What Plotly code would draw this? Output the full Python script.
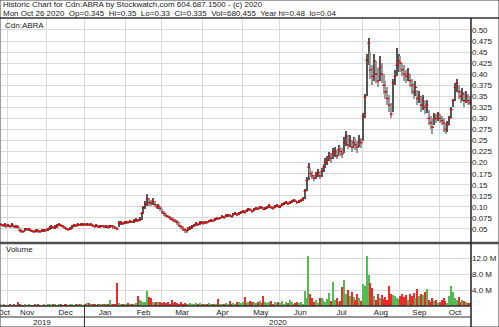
import pandas as pd
import plotly.graph_objects as go

# ---------------- data ----------------
HOLIDAYS = ["2019-12-25", "2019-12-26", "2020-01-01", "2020-02-17", "2020-04-10",
            "2020-05-18", "2020-07-01", "2020-08-03", "2020-09-07", "2020-10-12"]
MONTH_NAMES = ["Jan", "Feb", "Mar", "Apr", "May", "Jun", "Jul", "Aug", "Sep", "Oct", "Nov", "Dec"]

price_tickvals = [0.05, 0.075, 0.10, 0.125, 0.15, 0.175, 0.20, 0.225, 0.25, 0.275,
                  0.30, 0.325, 0.35, 0.375, 0.40, 0.425, 0.45, 0.475, 0.50]
price_ticktext = ["0.05", "0.075", "0.10", "0.125", "0.15", "0.175", "0.20", "0.225", "0.25", "0.275",
                  "0.30", "0.325", "0.35", "0.375", "0.40", "0.425", "0.45", "0.475", "0.50"]
vol_tickvals = [4, 8, 12]
vol_ticktext = ["4.0 M", "8.0 M", "12.0 M"]

c_oct19 = [0.060, 0.058, 0.060, 0.057]
h_oct19 = [0.063, 0.062, 0.063, 0.061]
l_oct19 = [0.056, 0.054, 0.055, 0.053]
v_oct19 = [0.3, 0.2, 0.4, 0.2]

c_nov19 = [0.058, 0.056, 0.060, 0.055, 0.056, 0.054, 0.047, 0.045, 0.044, 0.050, 0.049, 0.050, 0.046, 0.045, 0.044, 0.047, 0.045, 0.044, 0.046, 0.048, 0.047]
h_nov19 = [0.062, 0.060, 0.063, 0.059, 0.059, 0.058, 0.053, 0.049, 0.048, 0.053, 0.052, 0.053, 0.050, 0.048, 0.047, 0.050, 0.049, 0.047, 0.049, 0.051, 0.051]
l_nov19 = [0.054, 0.053, 0.055, 0.052, 0.052, 0.049, 0.044, 0.042, 0.041, 0.045, 0.045, 0.046, 0.043, 0.042, 0.041, 0.043, 0.042, 0.041, 0.043, 0.044, 0.044]
v_nov19 = [0.2, 0.3, 0.1, 0.4, 0.2, 1.0, 0.3, 0.2, 0.1, 0.3, 0.2, 0.4, 0.1, 0.2, 0.3, 0.2, 0.5, 0.2, 0.1, 0.3, 0.2]

c_dec19 = [0.050, 0.052, 0.055, 0.053, 0.055, 0.057, 0.060, 0.058, 0.056, 0.052, 0.050, 0.049, 0.050, 0.055, 0.058, 0.057, 0.060, 0.059, 0.060, 0.061]
h_dec19 = [0.053, 0.056, 0.058, 0.057, 0.058, 0.061, 0.064, 0.062, 0.059, 0.057, 0.054, 0.052, 0.054, 0.058, 0.061, 0.061, 0.063, 0.062, 0.063, 0.064]
l_dec19 = [0.046, 0.048, 0.051, 0.050, 0.051, 0.053, 0.056, 0.054, 0.052, 0.049, 0.047, 0.046, 0.047, 0.050, 0.054, 0.054, 0.056, 0.056, 0.057, 0.057]
v_dec19 = [0.3, 0.5, 0.2, 0.4, 0.3, 0.2, 0.6, 0.3, 0.2, 0.4, 0.3, 0.2, 0.5, 0.3, 0.2, 0.4, 0.3, 0.6, 0.3, 0.2]

c_jan20 = [0.060, 0.061, 0.059, 0.060, 0.057, 0.056, 0.058, 0.055, 0.056, 0.057, 0.055, 0.056, 0.054, 0.056, 0.057, 0.055, 0.052, 0.050, 0.063, 0.064, 0.062, 0.065]
h_jan20 = [0.063, 0.064, 0.063, 0.063, 0.061, 0.059, 0.061, 0.059, 0.059, 0.060, 0.059, 0.059, 0.058, 0.059, 0.060, 0.059, 0.056, 0.055, 0.067, 0.068, 0.066, 0.068]
l_jan20 = [0.057, 0.057, 0.056, 0.056, 0.054, 0.053, 0.054, 0.052, 0.053, 0.054, 0.052, 0.053, 0.051, 0.053, 0.054, 0.051, 0.049, 0.047, 0.054, 0.060, 0.059, 0.061]
v_jan20 = [0.3, 0.7, 0.8, 0.4, 0.3, 0.5, 0.2, 0.4, 0.3, 0.5, 0.3, 0.6, 0.3, 1.5, 0.4, 0.5, 0.3, 5.7, 0.8, 0.6, 0.4, 0.5]

c_feb20 = [0.066, 0.065, 0.067, 0.066, 0.068, 0.070, 0.069, 0.072, 0.085, 0.098, 0.106, 0.118, 0.110, 0.108, 0.112, 0.105, 0.100, 0.102, 0.097]
h_feb20 = [0.069, 0.069, 0.070, 0.069, 0.072, 0.074, 0.073, 0.076, 0.089, 0.103, 0.113, 0.130, 0.121, 0.116, 0.119, 0.113, 0.107, 0.107, 0.103]
l_feb20 = [0.062, 0.062, 0.063, 0.063, 0.064, 0.066, 0.065, 0.067, 0.071, 0.084, 0.096, 0.103, 0.103, 0.101, 0.104, 0.099, 0.095, 0.096, 0.091]
v_feb20 = [0.5, 0.8, 0.4, 0.6, 0.5, 0.7, 2.6, 1.5, 1.2, 0.9, 1.0, 3.8, 2.2, 1.9, 1.0, 0.8, 1.1, 0.9, 1.0]

c_mar20 = [0.088, 0.085, 0.080, 0.078, 0.075, 0.072, 0.070, 0.068, 0.065, 0.058, 0.055, 0.050, 0.048, 0.046, 0.050, 0.052, 0.055, 0.058, 0.062, 0.060, 0.063, 0.065]
h_mar20 = [0.095, 0.090, 0.087, 0.082, 0.080, 0.077, 0.074, 0.072, 0.070, 0.066, 0.060, 0.057, 0.053, 0.051, 0.055, 0.056, 0.059, 0.062, 0.066, 0.064, 0.067, 0.068]
l_mar20 = [0.084, 0.080, 0.076, 0.074, 0.071, 0.068, 0.066, 0.064, 0.060, 0.055, 0.050, 0.045, 0.042, 0.041, 0.045, 0.048, 0.051, 0.054, 0.057, 0.057, 0.059, 0.061]
v_mar20 = [0.8, 1.0, 0.7, 0.9, 0.6, 1.5, 0.8, 1.0, 0.7, 0.6, 0.9, 0.5, 0.8, 0.6, 0.4, 0.7, 0.5, 0.6, 0.8, 0.5, 0.7, 0.6]

c_apr20 = [0.063, 0.066, 0.065, 0.068, 0.070, 0.068, 0.072, 0.074, 0.073, 0.075, 0.078, 0.076, 0.080, 0.082, 0.080, 0.078, 0.083, 0.085, 0.082, 0.086, 0.088]
h_apr20 = [0.067, 0.069, 0.068, 0.071, 0.073, 0.071, 0.075, 0.077, 0.076, 0.078, 0.081, 0.079, 0.083, 0.085, 0.083, 0.082, 0.086, 0.088, 0.086, 0.089, 0.091]
l_apr20 = [0.060, 0.062, 0.062, 0.065, 0.066, 0.065, 0.068, 0.071, 0.070, 0.072, 0.074, 0.073, 0.076, 0.078, 0.077, 0.075, 0.079, 0.081, 0.079, 0.082, 0.084]
v_apr20 = [0.5, 0.6, 0.4, 0.7, 0.5, 0.6, 0.4, 0.5, 1.7, 0.6, 0.5, 0.4, 0.8, 0.6, 1.2, 0.5, 0.7, 0.6, 0.9, 1.0, 0.8]

c_may20 = [0.090, 0.088, 0.092, 0.095, 0.093, 0.090, 0.094, 0.097, 0.095, 0.100, 0.098, 0.095, 0.097, 0.100, 0.102, 0.099, 0.097, 0.100, 0.103, 0.100]
h_may20 = [0.093, 0.092, 0.095, 0.098, 0.097, 0.094, 0.097, 0.100, 0.099, 0.103, 0.102, 0.099, 0.100, 0.103, 0.106, 0.103, 0.101, 0.104, 0.107, 0.104]
l_may20 = [0.086, 0.085, 0.088, 0.091, 0.090, 0.087, 0.090, 0.093, 0.092, 0.096, 0.095, 0.092, 0.093, 0.096, 0.098, 0.096, 0.094, 0.097, 0.099, 0.097]
v_may20 = [1.0, 2.3, 0.8, 1.0, 1.2, 0.9, 1.1, 0.7, 1.0, 1.3, 0.8, 2.5, 1.0, 0.7, 0.9, 1.2, 0.6, 1.0, 0.8, 1.1]

c_jun20 = [0.102, 0.105, 0.108, 0.110, 0.107, 0.110, 0.112, 0.115, 0.113, 0.110, 0.112, 0.115, 0.118, 0.135, 0.160, 0.190, 0.175, 0.170, 0.165, 0.172, 0.178, 0.170]
h_jun20 = [0.105, 0.108, 0.111, 0.113, 0.111, 0.113, 0.115, 0.118, 0.117, 0.114, 0.115, 0.118, 0.122, 0.140, 0.168, 0.200, 0.188, 0.180, 0.172, 0.178, 0.185, 0.178]
l_jun20 = [0.098, 0.101, 0.104, 0.106, 0.104, 0.106, 0.108, 0.111, 0.110, 0.107, 0.108, 0.111, 0.114, 0.118, 0.135, 0.160, 0.168, 0.162, 0.158, 0.163, 0.168, 0.162]
v_jun20 = [0.8, 1.2, 0.6, 1.0, 0.7, 1.5, 0.9, 0.6, 0.8, 1.0, 0.7, 0.9, 0.6, 3.8, 2.0, 12.5, 3.0, 1.9, 1.0, 1.5, 0.8, 2.0]

c_jul20 = [0.180, 0.190, 0.200, 0.205, 0.215, 0.210, 0.220, 0.225, 0.215, 0.230, 0.225, 0.220, 0.245, 0.260, 0.240, 0.250, 0.235, 0.245, 0.240, 0.235, 0.250, 0.245]
h_jul20 = [0.188, 0.198, 0.210, 0.215, 0.225, 0.222, 0.232, 0.236, 0.228, 0.240, 0.236, 0.232, 0.258, 0.272, 0.262, 0.262, 0.252, 0.258, 0.255, 0.248, 0.262, 0.256]
l_jul20 = [0.168, 0.178, 0.188, 0.195, 0.203, 0.200, 0.208, 0.212, 0.208, 0.215, 0.215, 0.210, 0.222, 0.238, 0.230, 0.235, 0.225, 0.232, 0.228, 0.222, 0.235, 0.232]
v_jul20 = [2.0, 1.5, 1.0, 1.8, 3.2, 1.2, 6.0, 1.5, 2.0, 1.0, 1.3, 4.8, 6.5, 3.0, 4.0, 2.5, 3.5, 2.2, 1.5, 3.0, 2.0, 1.2]

c_aug20 = [0.305, 0.348, 0.432, 0.470, 0.410, 0.395, 0.430, 0.400, 0.385, 0.415, 0.400, 0.375, 0.360, 0.345, 0.330, 0.310, 0.380, 0.395, 0.420, 0.430]
h_aug20 = [0.312, 0.355, 0.445, 0.482, 0.450, 0.420, 0.445, 0.430, 0.415, 0.440, 0.425, 0.400, 0.385, 0.370, 0.352, 0.335, 0.390, 0.410, 0.460, 0.445]
l_aug20 = [0.250, 0.300, 0.350, 0.420, 0.390, 0.375, 0.385, 0.380, 0.370, 0.385, 0.380, 0.355, 0.345, 0.330, 0.315, 0.300, 0.315, 0.375, 0.395, 0.405]
v_aug20 = [5.5, 5.0, 12.5, 7.7, 5.7, 4.4, 2.5, 1.5, 3.0, 2.0, 2.8, 1.8, 2.2, 1.5, 5.0, 3.0, 2.8, 2.5, 2.0, 1.8]

c_sep20 = [0.425, 0.410, 0.400, 0.395, 0.400, 0.385, 0.375, 0.360, 0.370, 0.345, 0.350, 0.330, 0.340, 0.325, 0.330, 0.300, 0.290, 0.280, 0.305, 0.300, 0.310]
h_sep20 = [0.440, 0.425, 0.420, 0.410, 0.415, 0.400, 0.390, 0.380, 0.385, 0.365, 0.362, 0.350, 0.352, 0.340, 0.342, 0.320, 0.305, 0.300, 0.312, 0.310, 0.315]
l_sep20 = [0.405, 0.395, 0.385, 0.380, 0.385, 0.370, 0.355, 0.345, 0.350, 0.330, 0.335, 0.315, 0.320, 0.310, 0.312, 0.285, 0.275, 0.265, 0.285, 0.290, 0.295]
v_sep20 = [2.5, 3.0, 2.2, 2.8, 1.5, 3.0, 2.5, 3.2, 2.0, 4.2, 2.5, 3.0, 2.8, 3.5, 4.2, 1.5, 1.0, 2.0, 1.2, 1.5, 0.8]

c_oct20 = [0.300, 0.295, 0.290, 0.275, 0.285, 0.300, 0.320, 0.340, 0.370, 0.380, 0.360, 0.350, 0.355, 0.340, 0.350, 0.340, 0.335]
h_oct20 = [0.310, 0.305, 0.300, 0.290, 0.295, 0.305, 0.325, 0.345, 0.380, 0.390, 0.375, 0.365, 0.368, 0.360, 0.362, 0.355, 0.350]
l_oct20 = [0.290, 0.285, 0.270, 0.265, 0.270, 0.285, 0.300, 0.325, 0.340, 0.360, 0.345, 0.335, 0.340, 0.325, 0.335, 0.330, 0.330]
v_oct20 = [1.0, 1.5, 2.0, 1.2, 0.8, 2.5, 5.0, 3.5, 2.0, 1.5, 2.2, 1.0, 1.5, 1.2, 1.0, 0.8, 0.7]

close = (c_oct19 + c_nov19 + c_dec19 + c_jan20 + c_feb20 + c_mar20 + c_apr20 +
         c_may20 + c_jun20 + c_jul20 + c_aug20 + c_sep20 + c_oct20)
high = (h_oct19 + h_nov19 + h_dec19 + h_jan20 + h_feb20 + h_mar20 + h_apr20 +
        h_may20 + h_jun20 + h_jul20 + h_aug20 + h_sep20 + h_oct20)
low = (l_oct19 + l_nov19 + l_dec19 + l_jan20 + l_feb20 + l_mar20 + l_apr20 +
       l_may20 + l_jun20 + l_jul20 + l_aug20 + l_sep20 + l_oct20)
volume = (v_oct19 + v_nov19 + v_dec19 + v_jan20 + v_feb20 + v_mar20 + v_apr20 +
          v_may20 + v_jun20 + v_jul20 + v_aug20 + v_sep20 + v_oct20)

dates = [d for d in pd.bdate_range("2019-10-28", "2020-10-26")
         if d.strftime("%Y-%m-%d") not in HOLIDAYS]
n = len(dates)
idx = list(range(n))

# ---------------- derived positions ----------------
month_starts = [i for i in idx if i == 0 or dates[i].month != dates[i - 1].month]
month_bounds = month_starts + [n]
month_grid = [s - 0.5 for s in month_starts[1:]]
month_mid = [(month_bounds[k] + month_bounds[k + 1] - 1) / 2 for k in range(len(month_starts))]
month_txt = [MONTH_NAMES[dates[s].month - 1] for s in month_starts]
year_starts = [i for i in idx if i == 0 or dates[i].year != dates[i - 1].year]
year_bounds = year_starts + [n]
year_mid = [(year_bounds[k] + year_bounds[k + 1] - 1) / 2 for k in range(len(year_starts))]
year_txt = [str(dates[s].year) for s in year_starts]

prev = [close[0]] + close[:-1]
vcol = ["#55bb55" if c > p else ("#ee2a2a" if c < p else "#b8b8b8") for c, p in zip(close, prev)]
bcol = ["#555555" if c > p else "#9a9a9a" for c, p in zip(close, prev)]

# ---------------- geometry ----------------
W, H = 499, 327
def py(pix):
    return 1 - pix / H
XR = 471 / W
FONT = "Liberation Sans, Arial, sans-serif"
FS = 8
TXT = "#1a1a1a"
GRID = "#dadada"

fig = go.Figure()
fig.add_trace(go.Bar(x=idx, y=[h - l for h, l in zip(high, low)], base=low,
                     width=0.7, marker=dict(color=bcol, line=dict(width=0)),
                     xaxis="x", yaxis="y", hoverinfo="skip"))
fig.add_trace(go.Scatter(x=idx, y=close, mode="markers",
                         marker=dict(symbol="line-ew", size=2, color="#e00000",
                                     line=dict(width=1.3, color="#e00000")),
                         xaxis="x", yaxis="y", hoverinfo="skip"))
fig.add_trace(go.Bar(x=idx, y=volume, width=0.75,
                     marker=dict(color=vcol, line=dict(width=0)),
                     xaxis="x2", yaxis="y2", hoverinfo="skip"))

xr = [-0.5, n - 0.5]
minor = dict(tickmode="array", tickvals=month_grid, showgrid=True, gridcolor=GRID, gridwidth=1, ticks="")
tf = dict(family=FONT, size=FS, color=TXT)
fig.update_layout(
    width=W, height=H, margin=dict(l=0, r=0, t=0, b=0),
    paper_bgcolor="white", plot_bgcolor="white", showlegend=False, bargap=0,
    font=dict(family=FONT, size=FS, color=TXT),
    xaxis=dict(domain=[0, XR], range=xr, anchor="y", showticklabels=False, showgrid=False,
               zeroline=False, ticks="", minor=minor),
    yaxis=dict(domain=[py(243), py(18)], range=[0.0183, 0.527], side="right", anchor="x",
               tickmode="array", tickvals=price_tickvals, ticktext=price_ticktext,
               showgrid=True, gridcolor=GRID, zeroline=False, ticks="", automargin=False,
               tickfont=tf),
    xaxis2=dict(domain=[0, XR], range=xr, anchor="y2", matches="x",
                tickmode="array", tickvals=month_mid, ticktext=month_txt, showgrid=False,
                zeroline=False, ticks="", ticklen=0, automargin=False, minor=minor,
                ticklabeloverflow="allow", tickfont=tf),
    yaxis2=dict(domain=[py(306), py(243)], range=[0, 15.75], side="right", anchor="x2",
                tickmode="array", tickvals=vol_tickvals, ticktext=vol_ticktext,
                showgrid=True, gridcolor=GRID, zeroline=False, ticks="", automargin=False,
                tickfont=tf),
)

shapes = [
    dict(type="rect", xref="paper", yref="paper", x0=0, x1=1, y0=0, y1=1,
         line=dict(color="#404040", width=1)),
    dict(type="line", xref="paper", yref="paper", x0=0, x1=1, y0=py(18), y1=py(18),
         line=dict(color="#303030", width=1.5)),
    dict(type="line", xref="paper", yref="paper", x0=0, x1=1, y0=py(243), y1=py(243),
         line=dict(color="#505050", width=2.5)),
    dict(type="line", xref="paper", yref="paper", x0=XR, x1=XR, y0=0, y1=py(18),
         line=dict(color="#202020", width=1.5)),
    dict(type="line", xref="paper", yref="paper", x0=0, x1=XR, y0=py(306), y1=py(306),
         line=dict(color="#303030", width=1.5)),
    dict(type="line", xref="paper", yref="paper", x0=0, x1=XR, y0=py(317), y1=py(317),
         line=dict(color="#303030", width=1)),
]
for ys in year_starts[1:]:
    shapes.append(dict(type="line", xref="x", yref="paper", x0=ys - 0.5, x1=ys - 0.5,
                       y0=0, y1=py(306), line=dict(color="#303030", width=1)))
fig.update_layout(shapes=shapes)

ann = [
    dict(text="Historic Chart for Cdn:ABRA by Stockwatch.com 604.687.1500 - (c) 2020",
         x=2 / W, y=py(5)),
    dict(text="Mon Oct 26 2020\u00a0 Op=0.345\u00a0 Hi=0.35\u00a0 Lo=0.33\u00a0 Cl=0.335\u00a0 Vol=680,455\u00a0 Year hi=0.48\u00a0 lo=0.04",
         x=2 / W, y=py(13.5)),
    dict(text="Cdn:ABRA", x=4 / W, y=py(25.5)),
    dict(text="Volume", x=5 / W, y=py(249.5)),
]
annotations = []
for a in ann:
    annotations.append(dict(xref="paper", yref="paper", xanchor="left", yanchor="middle",
                            showarrow=False, font=tf, borderpad=0, **a))
for xm, t in zip(year_mid, year_txt):
    annotations.append(dict(xref="x", yref="paper", x=xm, y=py(322), text=t, showarrow=False,
                            xanchor="center", yanchor="middle", borderpad=0, font=tf))
fig.update_layout(annotations=annotations)

fig.write_html("out.html")
